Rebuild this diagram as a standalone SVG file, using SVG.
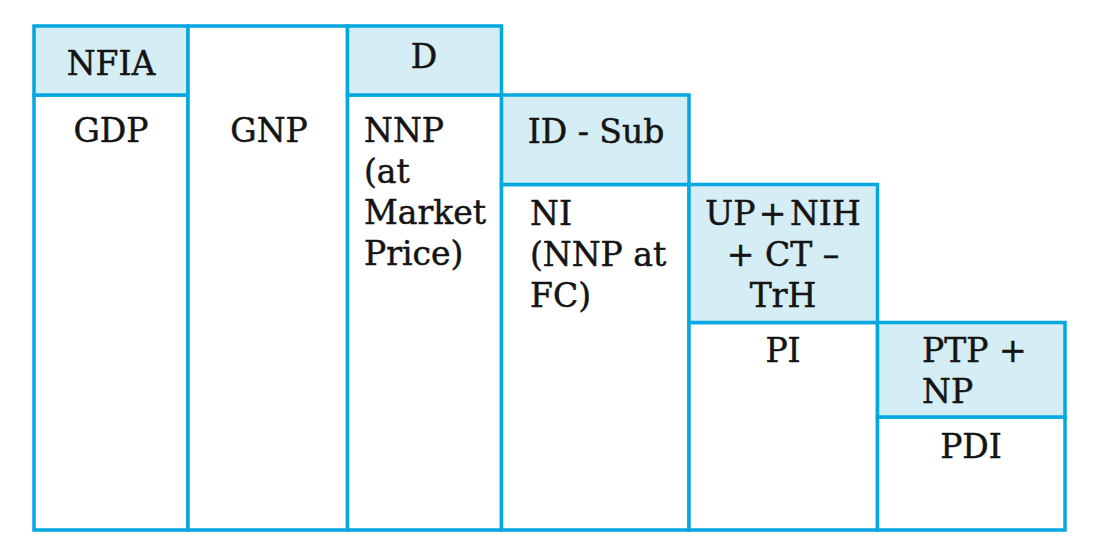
<svg xmlns="http://www.w3.org/2000/svg" width="1098" height="551" viewBox="0 0 1098 551">
<style>
.c{stroke:#05a7e0;stroke-width:3.5;fill:#ffffff}
.h{fill:#d5edf5}
text{font-family:"DejaVu Serif","Liberation Serif",serif;font-size:33px;fill:#141414;stroke:#141414;stroke-width:0.5}
.m{text-anchor:middle}
</style>
<rect width="1098" height="551" fill="#ffffff"/>
<g id="gdp"><rect class="c" x="34" y="95" width="154" height="435"/><text class="m" x="111" y="142">GDP</text></g>
<g id="nfia"><rect class="c h" x="34" y="26" width="154" height="69"/><text class="m" x="111" y="75">NFIA</text></g>
<g id="gnp"><rect class="c" x="188" y="26" width="159.5" height="504"/><text class="m" x="269" y="142">GNP</text></g>
<g id="nnp"><rect class="c" x="347.5" y="95" width="154" height="435"/><text x="364" y="142">NNP</text><text x="364" y="183">(at</text><text x="364" y="224">Market</text><text x="364" y="265">Price)</text></g>
<g id="d"><rect class="c h" x="347.5" y="26" width="154" height="69"/><text class="m" x="424" y="68">D</text></g>
<g id="ni"><rect class="c" x="501.5" y="184.5" width="187.5" height="345.5"/><text x="530" y="225">NI</text><text x="530" y="266">(NNP at</text><text x="530" y="307">FC)</text></g>
<g id="idsub"><rect class="c h" x="501.5" y="95" width="187.5" height="89.5"/><text class="m" x="596" y="143">ID - Sub</text></g>
<g id="pi"><rect class="c" x="689" y="322.5" width="188.5" height="207.5"/><text class="m" x="783" y="362">PI</text></g>
<g id="up"><rect class="c h" x="689" y="184.5" width="188.5" height="138"/><text class="m" x="783" y="225" word-spacing="-7">UP + NIH</text><text class="m" x="783" y="266">+ CT –</text><text class="m" x="783" y="307">TrH</text></g>
<g id="pdi"><rect class="c" x="877.5" y="417" width="187.5" height="113"/><text class="m" x="971" y="458">PDI</text></g>
<g id="ptp"><rect class="c h" x="877.5" y="322.5" width="187.5" height="94.5"/><text x="922" y="362">PTP +</text><text x="922" y="403">NP</text></g>
</svg>
